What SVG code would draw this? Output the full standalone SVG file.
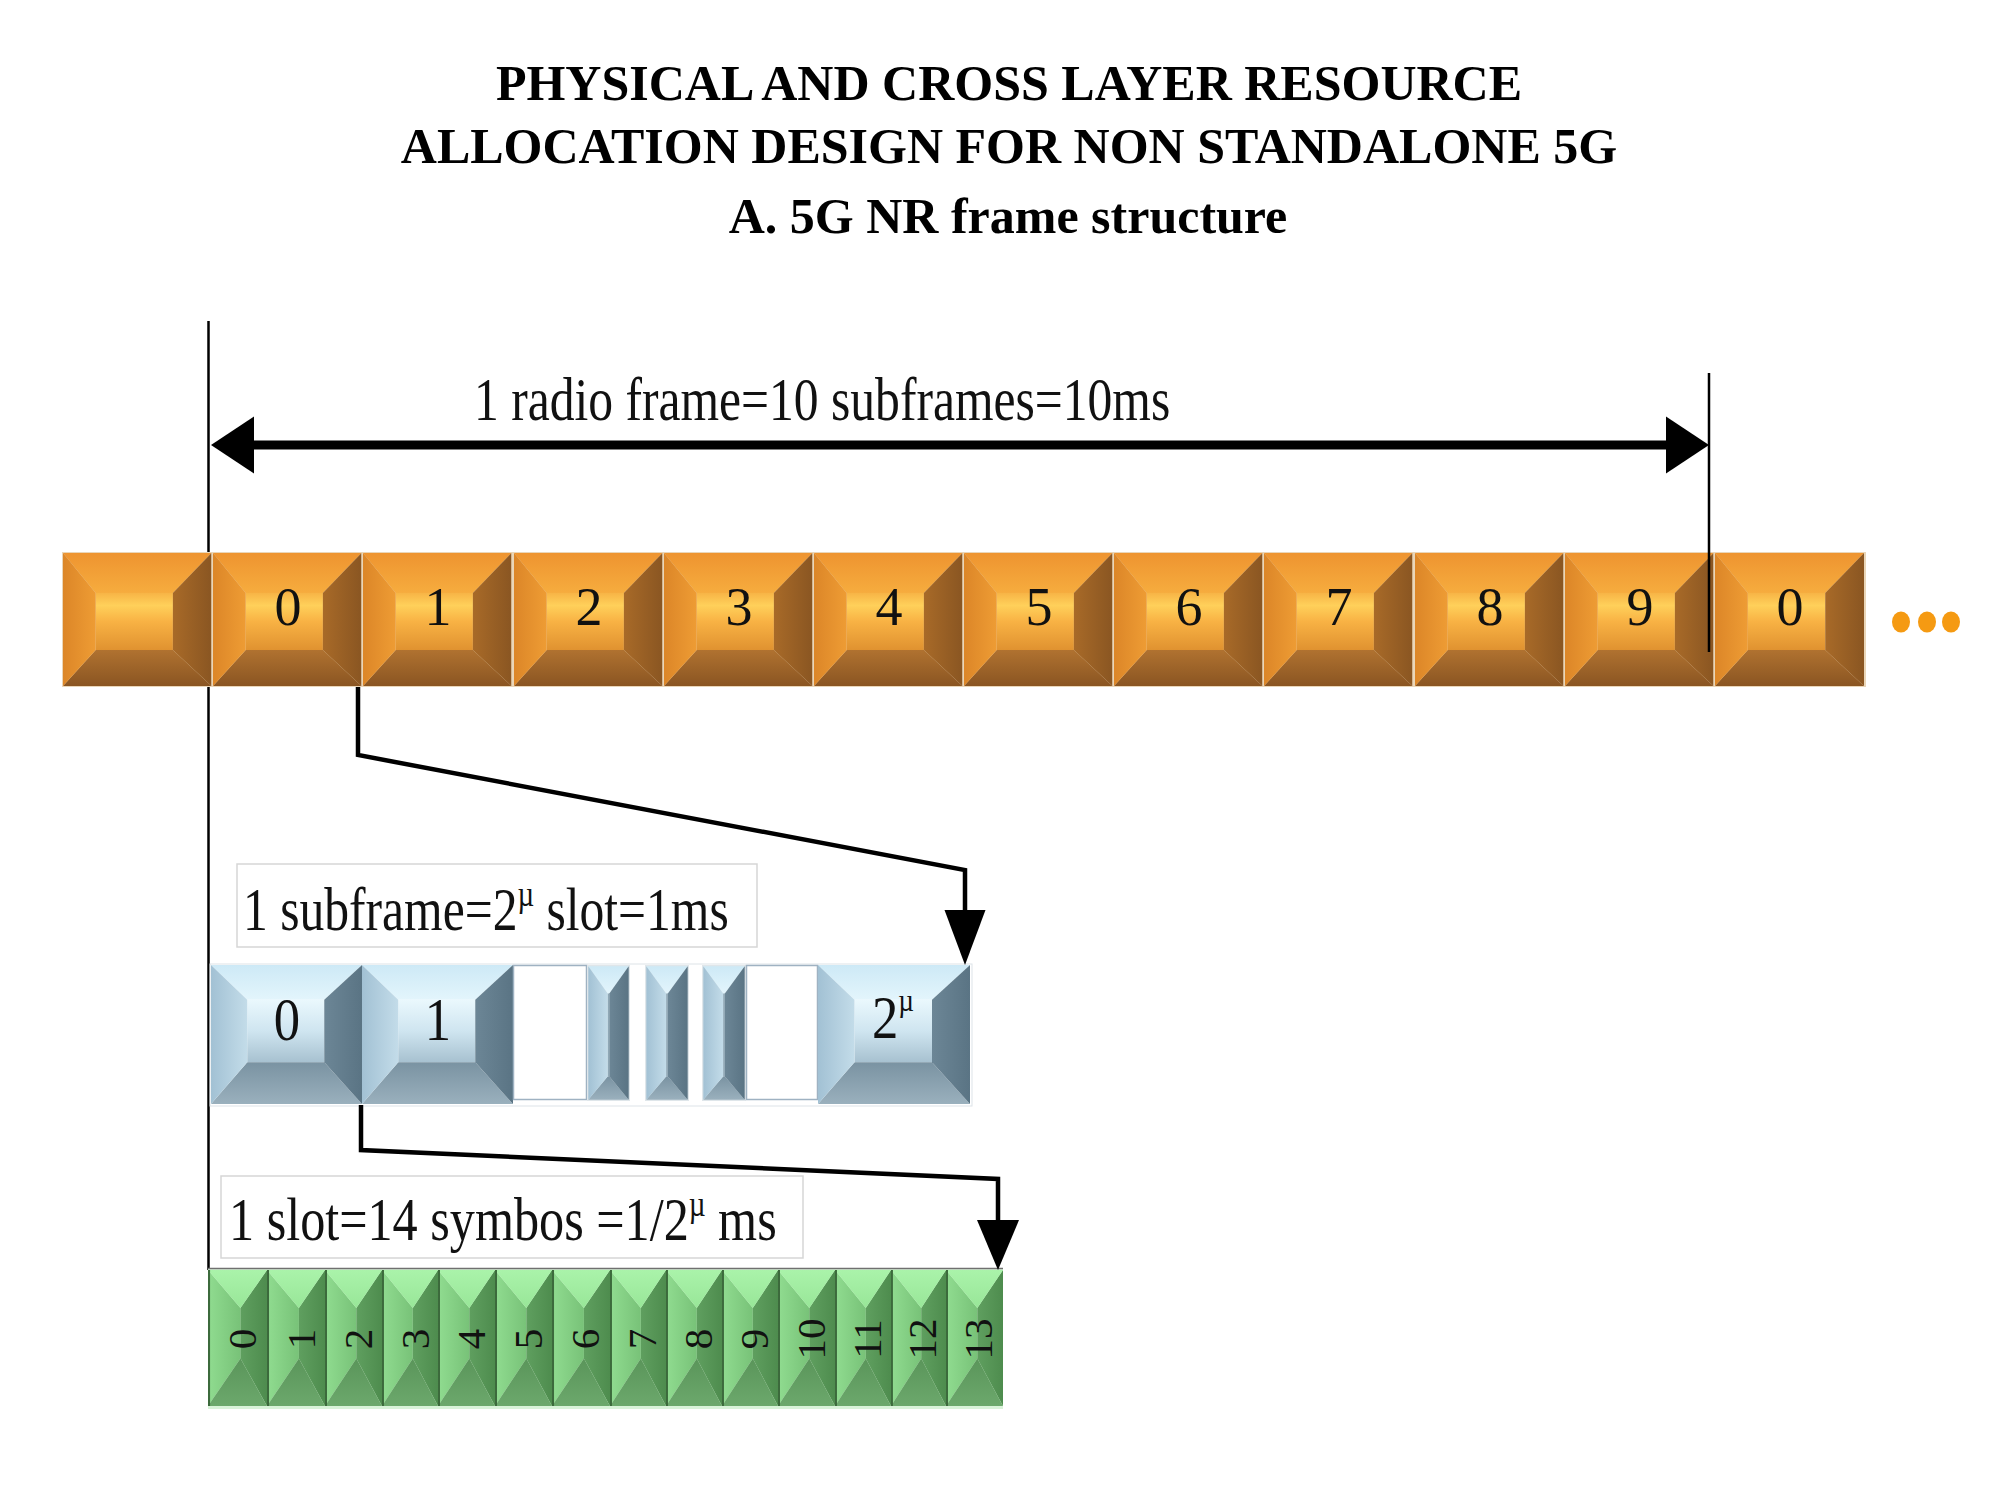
<svg xmlns="http://www.w3.org/2000/svg" xmlns:xlink="http://www.w3.org/1999/xlink" width="2000" height="1500" viewBox="0 0 2000 1500">
<style>
.title{font-family:"Liberation Serif","Times New Roman",serif;font-weight:bold;font-size:50px;fill:#000;text-anchor:middle}
.lbl{font-family:"Liberation Serif","Times New Roman",serif;font-size:62px;fill:#111}
.od{font-family:"Liberation Serif","Times New Roman",serif;font-size:54px;fill:#111;text-anchor:middle}
.bd{font-family:"Liberation Serif","Times New Roman",serif;font-size:62px;fill:#111;text-anchor:middle}
.bds{font-family:"Liberation Serif","Times New Roman",serif;font-size:62px;fill:#111;text-anchor:start}
.gd{font-family:"Liberation Serif","Times New Roman",serif;font-size:41px;fill:#111;text-anchor:middle}
.sup{font-size:36px}
.ln{fill:none;stroke:#000;stroke-linejoin:miter}
.head{fill:#000}
.lblbox{fill:#fff;stroke:#d6d6d6;stroke-width:1.5}
.wbox{fill:#fff;stroke:#9fb2c2;stroke-width:1.5}
.dot{fill:#f59a12}
</style>
<defs>
<linearGradient id="oTop" x1="0" y1="0" x2="0" y2="1"><stop offset="0" stop-color="#ee9430"/><stop offset="1" stop-color="#f6ac3e"/></linearGradient>
<linearGradient id="oIn" x1="0" y1="0" x2="0" y2="1"><stop offset="0" stop-color="#f7b446"/><stop offset="0.22" stop-color="#ffd05a"/><stop offset="0.5" stop-color="#f8b244"/><stop offset="1" stop-color="#e09230"/></linearGradient>
<linearGradient id="oBot" x1="0" y1="0" x2="0" y2="1"><stop offset="0" stop-color="#b07230"/><stop offset="1" stop-color="#8a5522"/></linearGradient>
<linearGradient id="oL" x1="0" y1="0" x2="1" y2="0"><stop offset="0" stop-color="#dc8628"/><stop offset="1" stop-color="#ee9c34"/></linearGradient>
<linearGradient id="oR" x1="0" y1="0" x2="1" y2="0"><stop offset="0" stop-color="#a86a28"/><stop offset="1" stop-color="#8a5622"/></linearGradient>
<linearGradient id="bTop" x1="0" y1="0" x2="0" y2="1"><stop offset="0" stop-color="#cde9f6"/><stop offset="1" stop-color="#e3f5fc"/></linearGradient>
<linearGradient id="bIn" x1="0" y1="0" x2="0" y2="1"><stop offset="0" stop-color="#eaf8fd"/><stop offset="0.5" stop-color="#cfe5f0"/><stop offset="1" stop-color="#a7c1d0"/></linearGradient>
<linearGradient id="bBot" x1="0" y1="0" x2="0" y2="1"><stop offset="0" stop-color="#7a93a2"/><stop offset="1" stop-color="#9ab0bd"/></linearGradient>
<linearGradient id="bL" x1="0" y1="0" x2="1" y2="0"><stop offset="0" stop-color="#a2c1d4"/><stop offset="1" stop-color="#c3dce9"/></linearGradient>
<linearGradient id="bR" x1="0" y1="0" x2="1" y2="0"><stop offset="0" stop-color="#6c8696"/><stop offset="1" stop-color="#5a7484"/></linearGradient>
<linearGradient id="gTop" x1="0" y1="0" x2="0" y2="1"><stop offset="0" stop-color="#aaf3aa"/><stop offset="1" stop-color="#98e698"/></linearGradient>
<linearGradient id="gL" x1="0" y1="0" x2="1" y2="0"><stop offset="0" stop-color="#90dc90"/><stop offset="1" stop-color="#78c278"/></linearGradient>
<linearGradient id="gR" x1="0" y1="0" x2="1" y2="0"><stop offset="0" stop-color="#5f9f5f"/><stop offset="1" stop-color="#4e8c4e"/></linearGradient>
<linearGradient id="gBot" x1="0" y1="0" x2="0" y2="1"><stop offset="0" stop-color="#5a955a"/><stop offset="1" stop-color="#6ca86c"/></linearGradient>
<symbol id="ob" viewBox="0 0 100 100" preserveAspectRatio="none">
<polygon points="0,0 100,0 74,30 22,30" fill="url(#oTop)"/>
<rect x="22" y="30" width="52" height="43" fill="url(#oIn)"/>
<polygon points="0,100 100,100 74,73 22,73" fill="url(#oBot)"/>
<polygon points="0,0 22,30 22,73 0,100" fill="url(#oL)"/>
<polygon points="100,0 74,30 74,73 100,100" fill="url(#oR)"/>
</symbol>
<symbol id="bb" viewBox="0 0 100 100" preserveAspectRatio="none">
<polygon points="0,0 100,0 75,25 24,25" fill="url(#bTop)"/>
<rect x="24" y="25" width="51" height="45" fill="url(#bIn)"/>
<polygon points="0,100 100,100 75,70 24,70" fill="url(#bBot)"/>
<polygon points="0,0 24,25 24,70 0,100" fill="url(#bL)"/>
<polygon points="100,0 75,25 75,70 100,100" fill="url(#bR)"/>
</symbol>
<symbol id="bs" viewBox="0 0 100 100" preserveAspectRatio="none">
<rect x="0" y="0" width="100" height="100" fill="#dfe6ea"/>
<polygon points="3,1 97,1 52,21 48,21" fill="url(#bTop)"/>
<rect x="48" y="21" width="4" height="61" fill="#8fa8b6"/>
<polygon points="3,99 97,99 52,82 48,82" fill="url(#bBot)"/>
<polygon points="3,1 48,21 48,82 3,99" fill="url(#bL)"/>
<polygon points="97,1 52,21 52,82 97,99" fill="url(#bR)"/>
</symbol>
<symbol id="gb" viewBox="0 0 100 100" preserveAspectRatio="none">
<polygon points="0,0 55,28 55,65 0,100" fill="url(#gL)"/>
<polygon points="100,0 55,28 55,65 100,100" fill="url(#gR)"/>
<polygon points="0,0 100,0 55,28" fill="url(#gTop)"/>
<polygon points="0,100 100,100 55,65" fill="url(#gBot)"/>
<rect x="0" y="0" width="3.5" height="100" fill="#3c6a3c"/>
</symbol>
</defs>
<rect width="2000" height="1500" fill="#fff"/>

<g id="title">
<text class="title" x="1009" y="100">PHYSICAL AND CROSS LAYER RESOURCE</text>
<text class="title" x="1009" y="163">ALLOCATION DESIGN FOR NON STANDALONE 5G</text>
<text class="title" x="1008" y="233">A. 5G NR frame structure</text>
</g>

<g id="connectors-back">
<line class="ln" x1="208.5" y1="321" x2="208.5" y2="1270" stroke-width="2.5"/>
</g>

<g id="radio-frame">
<rect x="62" y="552" width="1804" height="135" fill="#ead6b8"/>
<g id="sf-prev"><use href="#ob" x="63" y="553" width="148.5" height="133"/></g>
<g id="sf-0"><use href="#ob" x="213" y="553" width="148.5" height="133"/><text class="od" x="288" y="625">0</text></g>
<g id="sf-1"><use href="#ob" x="363" y="553" width="148.5" height="133"/><text class="od" x="438" y="625">1</text></g>
<g id="sf-2"><use href="#ob" x="514" y="553" width="148.5" height="133"/><text class="od" x="589" y="625">2</text></g>
<g id="sf-3"><use href="#ob" x="664" y="553" width="148.5" height="133"/><text class="od" x="739" y="625">3</text></g>
<g id="sf-4"><use href="#ob" x="814" y="553" width="148.5" height="133"/><text class="od" x="889" y="625">4</text></g>
<g id="sf-5"><use href="#ob" x="964" y="553" width="148.5" height="133"/><text class="od" x="1039" y="625">5</text></g>
<g id="sf-6"><use href="#ob" x="1114" y="553" width="148.5" height="133"/><text class="od" x="1189" y="625">6</text></g>
<g id="sf-7"><use href="#ob" x="1264" y="553" width="148.5" height="133"/><text class="od" x="1339" y="625">7</text></g>
<g id="sf-8"><use href="#ob" x="1415" y="553" width="148.5" height="133"/><text class="od" x="1490" y="625">8</text></g>
<g id="sf-9"><use href="#ob" x="1565" y="553" width="148.5" height="133"/><text class="od" x="1640" y="625">9</text></g>
<g id="sf-next-0"><use href="#ob" x="1715" y="553" width="149" height="133"/><text class="od" x="1790" y="625">0</text></g>
</g>

<g id="ellipsis">
<ellipse class="dot" cx="1901" cy="622" rx="9" ry="10.5"/>
<ellipse class="dot" cx="1927" cy="622" rx="9" ry="10.5"/>
<ellipse class="dot" cx="1951" cy="622" rx="9" ry="10.5"/>
</g>

<g id="label-radio-frame">
<text class="lbl" font-size="64" transform="translate(474,420) scale(0.8,1)">1 radio frame=10 subframes=10ms</text>
</g>

<g id="label-subframe">
<rect class="lblbox" x="237" y="864" width="520" height="83"/>
<text class="lbl" transform="translate(243,930) scale(0.8,1)">1 subframe=2<tspan class="sup" dy="-24">µ</tspan><tspan dy="24"> slot=1ms</tspan></text>
</g>

<g id="subframe-slots">
<rect x="210" y="964" width="762" height="142" fill="none" stroke="#dde3e8" stroke-width="1"/>
<g id="slot-0"><use href="#bb" x="211" y="965" width="151" height="139"/><text class="bd" transform="translate(287,1040) scale(0.85,1)">0</text></g>
<g id="slot-1"><use href="#bb" x="362" y="965" width="151" height="139"/><text class="bd" transform="translate(438,1040) scale(0.85,1)">1</text></g>
<g id="slot-gap-1"><rect class="wbox" x="513.5" y="965.5" width="73" height="134"/></g>
<g id="slot-slim-1"><use href="#bs" x="587" y="965" width="43" height="136"/></g>
<g id="slot-slim-2"><use href="#bs" x="645" y="965" width="44" height="136"/></g>
<g id="slot-slim-3"><use href="#bs" x="702" y="965" width="44" height="136"/></g>
<g id="slot-gap-2"><rect class="wbox" x="746.5" y="965.5" width="71" height="134"/></g>
<g id="slot-last"><use href="#bb" x="818" y="965" width="152" height="139"/><text class="bds" transform="translate(872,1038) scale(0.85,1)">2<tspan font-size="32" dy="-27">µ</tspan></text></g>
</g>

<g id="label-slot">
<rect class="lblbox" x="221" y="1176" width="582" height="82"/>
<text class="lbl" transform="translate(229,1240) scale(0.81,1)">1 slot=14 symbos =1/2<tspan class="sup" dy="-24">µ</tspan><tspan dy="24"> ms</tspan></text>
</g>

<g id="symbols">
<rect x="208" y="1268" width="795" height="141" fill="#d9f3d9"/>
<line x1="208" y1="1268.5" x2="1003" y2="1268.5" stroke="#707070" stroke-width="1.5"/>
<g id="sym-0"><use href="#gb" x="208" y="1270" width="59" height="136"/><text class="gd" transform="translate(256,1339) rotate(-90)">0</text></g>
<g id="sym-1"><use href="#gb" x="267" y="1270" width="58" height="136"/><text class="gd" transform="translate(315,1339) rotate(-90)">1</text></g>
<g id="sym-2"><use href="#gb" x="325" y="1270" width="57" height="136"/><text class="gd" transform="translate(372,1339) rotate(-90)">2</text></g>
<g id="sym-3"><use href="#gb" x="382" y="1270" width="56" height="136"/><text class="gd" transform="translate(429,1339) rotate(-90)">3</text></g>
<g id="sym-4"><use href="#gb" x="438" y="1270" width="57" height="136"/><text class="gd" transform="translate(485,1339) rotate(-90)">4</text></g>
<g id="sym-5"><use href="#gb" x="495" y="1270" width="57" height="136"/><text class="gd" transform="translate(542,1339) rotate(-90)">5</text></g>
<g id="sym-6"><use href="#gb" x="552" y="1270" width="58" height="136"/><text class="gd" transform="translate(599,1339) rotate(-90)">6</text></g>
<g id="sym-7"><use href="#gb" x="610" y="1270" width="56" height="136"/><text class="gd" transform="translate(656,1339) rotate(-90)">7</text></g>
<g id="sym-8"><use href="#gb" x="666" y="1270" width="56" height="136"/><text class="gd" transform="translate(712,1339) rotate(-90)">8</text></g>
<g id="sym-9"><use href="#gb" x="722" y="1270" width="56" height="136"/><text class="gd" transform="translate(768,1339) rotate(-90)">9</text></g>
<g id="sym-10"><use href="#gb" x="778" y="1270" width="57" height="136"/><text class="gd" transform="translate(825,1339) rotate(-90)">10</text></g>
<g id="sym-11"><use href="#gb" x="835" y="1270" width="56" height="136"/><text class="gd" transform="translate(881,1339) rotate(-90)">11</text></g>
<g id="sym-12"><use href="#gb" x="891" y="1270" width="55" height="136"/><text class="gd" transform="translate(936,1339) rotate(-90)">12</text></g>
<g id="sym-13"><use href="#gb" x="946" y="1270" width="57" height="136"/><text class="gd" transform="translate(992,1339) rotate(-90)">13</text></g>
</g>

<g id="connectors">
<line class="ln" x1="1709" y1="373" x2="1709" y2="652" stroke-width="2.5"/>
<line class="ln" x1="250" y1="445" x2="1670" y2="445" stroke-width="9"/>
<polygon class="head" points="211,445 254,416.5 254,473.5"/>
<polygon class="head" points="1709,445 1666,416.5 1666,473.5"/>
<polyline class="ln" points="358,687 358,755 965,870 965,914" stroke-width="4.5"/>
<polygon class="head" points="944.5,910 985.5,910 965,965"/>
<polyline class="ln" points="361,1105 361,1150 998,1179 998,1224" stroke-width="4.5"/>
<polygon class="head" points="977,1220 1019,1220 998,1270"/>
</g>
</svg>
